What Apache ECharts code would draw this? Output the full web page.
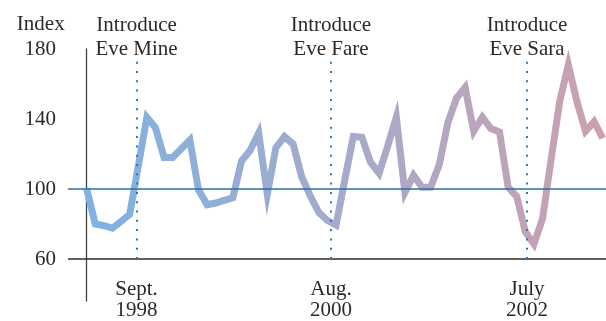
<!DOCTYPE html>
<html>
<head>
<meta charset="utf-8">
<script src="https://cdn.jsdelivr.net/npm/echarts@6/dist/echarts.min.js"></script>
<style>
  html, body { margin: 0; padding: 0; background: #fff; }
  #chart { width: 606px; height: 321px; }
</style>
</head>
<body>
<div id="chart"></div>
<script>
// monthly index values (month 0 = first point)
const indexValues = [100, 80, 79, 77.6, 81.5, 85.5, 113, 141, 135, 118, 118, 123, 128, 99.5, 91,
  92, 93.5, 95, 116, 122, 132, 97, 123.6, 130, 125.7, 107, 96, 86.5, 82, 79.3,
  105, 130, 129.6, 115.3, 109, 124.5, 141, 98, 107.8, 101, 101, 114, 138, 152, 158,
  133, 141, 134.5, 132.6, 101, 95.7, 75.5, 68.5, 83, 117, 150, 171, 150, 133, 138.5, 129];

// product launches (position in months, label above, date below)
const eventPos = [5.8, 28.4, 51.2];
const eventNames = ['Introduce\nEve Mine', 'Introduce\nEve Fare', 'Introduce\nEve Sara'];
const eventDates = ['Sept.\n1998', 'Aug.\n2000', 'July\n2002'];

const yTickLabels = [60, 100, 140, 180];
const baseLine = 100;
const floorLine = 60;

const fontFamily = '"Liberation Serif", "DejaVu Serif", serif';
const textColor = '#2a2a2a';

const chart = echarts.init(document.getElementById('chart'));

const points = indexValues.map((v, i) => [i, v]);

// vertical dotted lines for each launch
const eventLines = eventPos.map((x, k) => [
  { coord: [x, floorLine], name: eventNames[k] },
  { coord: [x, 174] }
]);

chart.setOption({
  animation: false,
  grid: { left: 68, right: 0, top: 49, bottom: 14 },
  xAxis: {
    type: 'value',
    min: -2.17,
    max: 60.38,
    axisLine: { show: false },
    axisTick: { show: false },
    splitLine: { show: false },
    axisLabel: {
      customValues: eventPos,
      margin: -22,
      fontFamily: fontFamily,
      fontSize: 21,
      lineHeight: 21,
      color: textColor,
      verticalAlign: 'top',
      formatter: (v) => {
        const k = eventPos.findIndex(p => Math.abs(p - v) < 1e-6);
        return k >= 0 ? eventDates[k] : '';
      }
    }
  },
  yAxis: {
    type: 'value',
    min: 36,
    max: 180,
    interval: 4,
    offset: -16,
    name: 'Index',
    nameLocation: 'end',
    nameGap: 25,
    nameTextStyle: {
      fontFamily: fontFamily, fontSize: 21, color: textColor,
      align: 'right', verticalAlign: 'middle', padding: [0, 22, 0, 0]
    },
    axisLine: { show: true, lineStyle: { color: '#444', width: 1.3 } },
    axisTick: { show: false },
    splitLine: { show: false },
    axisLabel: {
      margin: 28,
      fontFamily: fontFamily,
      fontSize: 21,
      color: textColor,
      formatter: (v) => yTickLabels.includes(v) ? String(v) : ''
    }
  },
  series: [{
    type: 'line',
    data: points,
    showSymbol: false,
    clip: false,
    lineStyle: {
      width: 7,
      join: 'miter',
      miterLimit: 10,
      color: new echarts.graphic.LinearGradient(0, 0, 1, 0, [
        { offset: 0, color: '#7fb2e2' },
        { offset: 0.5, color: '#a6aacb' },
        { offset: 1, color: '#cca0ae' }
      ])
    },
    markLine: {
      silent: true,
      symbol: ['none', 'none'],
      animation: false,
      label: {
        show: true,
        position: 'end',
        distance: -2,
        formatter: '{b}',
        fontFamily: fontFamily,
        fontSize: 21,
        lineHeight: 24,
        color: textColor
      },
      lineStyle: { type: [2, 7.3], width: 2, color: '#1f7bc4', cap: 'butt' },
      data: [
        { yAxis: floorLine, label: { show: false }, lineStyle: { type: 'solid', color: '#2b2b2b', width: 1.5 } },
        { yAxis: baseLine, label: { show: false }, lineStyle: { type: 'solid', color: '#2a6fa8', width: 1.5 } }
      ].concat(eventLines)
    }
  }]
});
</script>
</body>
</html>
